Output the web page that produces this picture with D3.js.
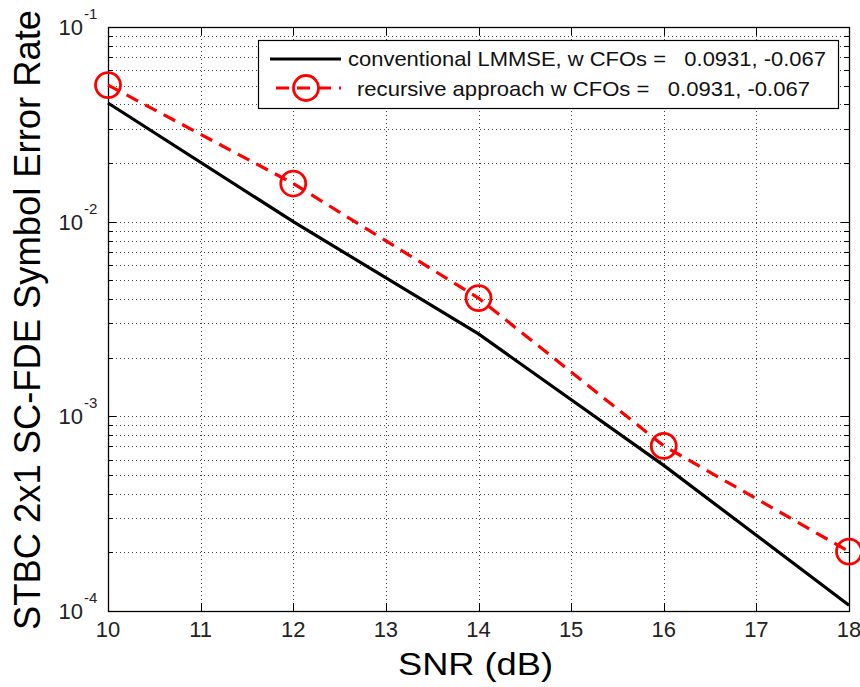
<!DOCTYPE html>
<html><head><meta charset="utf-8">
<script src="https://cdn.jsdelivr.net/npm/d3@7"></script>
<style>body{margin:0;background:#fff}svg{display:block;font-family:"Liberation Sans",Arial,sans-serif}</style>
</head><body><svg id="c" width="860" height="687"></svg>
<script>
const snr = [10, 12, 14, 16, 18];
const lmmse = [0.0407, 0.0100, 0.00265, 0.00056, 0.000107];
const recursive = [0.0503, 0.0157, 0.00405, 0.000705, 0.000202];
const xTicks = [10, 11, 12, 13, 14, 15, 16, 17, 18];
const yTicks = [1e-4, 1e-3, 1e-2, 1e-1];
const yExp = ["-4", "-3", "-2", "-1"];
const legendLabels = ["conventional LMMSE, w CFOs =   0.0931, -0.067", "recursive approach w CFOs =   0.0931, -0.067"];

const L = 108, R = 849, T = 27, B = 611;
const svg = d3.select("#c");
const x = d3.scaleLinear().domain([10, 18]).range([L, R]);
const y = d3.scaleLog().domain([1e-4, 1e-1]).range([B, T]);

const minor = [];
for (let e = -4; e < -1; e++) for (let m = 2; m <= 9; m++) minor.push(m * Math.pow(10, e));

const g = svg.append("g");
// grid
g.selectAll(".gy").data(yTicks.concat(minor)).enter().append("line")
  .attr("x1", L).attr("x2", R).attr("y1", d => Math.round(y(d)) + 0.5).attr("y2", d => Math.round(y(d)) + 0.5)
  .attr("stroke", "#444").attr("stroke-width", 1).attr("stroke-dasharray", "1,3");
g.selectAll(".gx").data(xTicks).enter().append("line")
  .attr("y1", T).attr("y2", B).attr("x1", d => Math.round(x(d)) + 0.5).attr("x2", d => Math.round(x(d)) + 0.5)
  .attr("stroke", "#444").attr("stroke-width", 1).attr("stroke-dasharray", "1,3");

// ticks (inward, all sides)
const tk = 8, mtk = 5;
[[L, 1], [R, -1]].forEach(([xx, s]) => {
  g.selectAll(null).data(yTicks).enter().append("line")
    .attr("x1", xx).attr("x2", xx + s * tk).attr("y1", d => Math.round(y(d)) + 0.5).attr("y2", d => Math.round(y(d)) + 0.5)
    .attr("stroke", "#000");
  g.selectAll(null).data(minor).enter().append("line")
    .attr("x1", xx).attr("x2", xx + s * mtk).attr("y1", d => Math.round(y(d)) + 0.5).attr("y2", d => Math.round(y(d)) + 0.5)
    .attr("stroke", "#000");
});
[[B, -1], [T, 1]].forEach(([yy, s]) => {
  g.selectAll(null).data(xTicks).enter().append("line")
    .attr("y1", yy).attr("y2", yy + s * tk).attr("x1", d => Math.round(x(d)) + 0.5).attr("x2", d => Math.round(x(d)) + 0.5)
    .attr("stroke", "#000");
});
// box
g.append("rect").attr("x", L + 0.5).attr("y", T + 0.5).attr("width", R - L).attr("height", B - T)
  .attr("fill", "none").attr("stroke", "#000").attr("stroke-width", 1.3);

// tick labels
g.selectAll(".xl").data(xTicks).enter().append("text")
  .attr("x", d => x(d)).attr("y", B + 26).attr("text-anchor", "middle")
  .attr("font-size", 22).attr("fill", "#222").text(d => d);
yTicks.forEach((d, i) => {
  g.append("text").attr("x", 83).attr("y", y(d) + 8).attr("text-anchor", "end")
    .attr("font-size", 22).attr("fill", "#222").text("10");
  g.append("text").attr("x", 84).attr("y", y(d) - 8).attr("font-size", 15).attr("fill", "#222").text(yExp[i]);
});

// axis titles
g.append("text").attr("x", 398).attr("y", 675)
  .attr("font-size", 31).attr("fill", "#000").attr("textLength", 155).attr("lengthAdjust", "spacingAndGlyphs").text("SNR (dB)");
g.append("text").attr("transform", `translate(40,630) rotate(-90)`)
  .attr("font-size", 36).attr("fill", "#000").attr("textLength", 620).attr("lengthAdjust", "spacingAndGlyphs")
  .text("STBC 2x1 SC-FDE Symbol Error Rate");

// lines
const line = d3.line().x((d, i) => x(snr[i])).y(d => y(d));
g.append("path").datum(lmmse).attr("d", line).attr("fill", "none").attr("stroke", "#000").attr("stroke-width", 3.2);
g.append("path").datum(recursive).attr("d", line).attr("fill", "none").attr("stroke", "#ff0000").attr("stroke-width", 3.2)
  .attr("stroke-dasharray", "13,8");
g.selectAll(".mk").data(recursive).enter().append("circle")
  .attr("cx", (d, i) => x(snr[i])).attr("cy", d => y(d)).attr("r", 12.5)
  .attr("fill", "none").attr("stroke", "#ff0000").attr("stroke-width", 2.8);

// legend
const lg = g.append("g");
lg.append("rect").attr("x", 258.5).attr("y", 40.5).attr("width", 580).attr("height", 68)
  .attr("fill", "#fff").attr("stroke", "#000").attr("stroke-width", 1.2);
lg.append("line").attr("x1", 270).attr("x2", 341).attr("y1", 59).attr("y2", 59).attr("stroke", "#000").attr("stroke-width", 3.2);
lg.append("line").attr("x1", 276).attr("x2", 341).attr("y1", 88).attr("y2", 88).attr("stroke", "#ff0000").attr("stroke-width", 3.2).attr("stroke-dasharray", "13,8");
lg.append("circle").attr("cx", 306).attr("cy", 88).attr("r", 12.5).attr("fill", "none").attr("stroke", "#ff0000").attr("stroke-width", 2.8);
lg.append("text").attr("x", 348).attr("y", 66).attr("font-size", 21).attr("fill", "#111")
  .attr("textLength", 478).attr("lengthAdjust", "spacingAndGlyphs").style("white-space", "pre").text(legendLabels[0]);
lg.append("text").attr("x", 357).attr("y", 96).attr("font-size", 21).attr("fill", "#111")
  .attr("textLength", 453).attr("lengthAdjust", "spacingAndGlyphs").style("white-space", "pre").text(legendLabels[1]);
</script></body></html>
